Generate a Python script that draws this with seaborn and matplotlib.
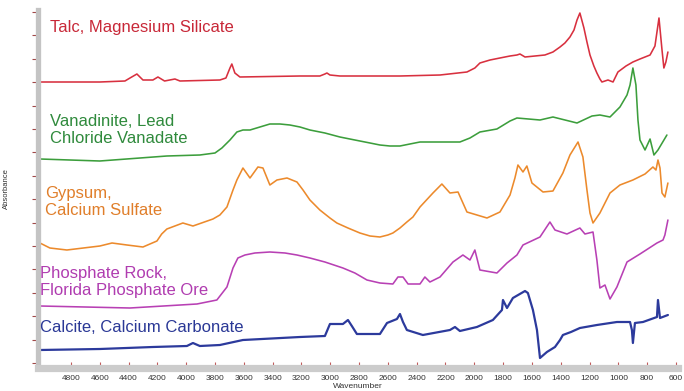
import matplotlib
matplotlib.use("Agg")
import matplotlib.pyplot as plt
from matplotlib.ticker import MultipleLocator
import numpy as np
import pandas as pd
import seaborn as sns

# Stacked infrared spectra (wavenumber in cm-1, absorbance offset per sample)
talc_wn = [5015, 4600, 4425, 4390, 4342, 4321, 4300, 4231, 4196, 4150, 4078, 4043,
           3766, 3724, 3696, 3683, 3662, 3627, 3210, 3072, 3037, 3023, 3002, 2933,
           2516, 2238, 2051, 1996, 1961, 1891, 1822, 1752, 1704, 1683, 1648, 1579,
           1510, 1454, 1405, 1371, 1336, 1308, 1287, 1267, 1239, 1218, 1197, 1170,
           1149, 1128, 1114, 1072, 1037, 1003, 947, 899, 850, 780, 746,
           718, 697, 684, 670, 656]
talc_abs = [2.81, 2.81, 2.82, 2.85, 2.89, 2.86, 2.83, 2.83, 2.86, 2.82, 2.84, 2.82,
            2.83, 2.85, 2.95, 2.99, 2.90, 2.86, 2.87, 2.87, 2.89, 2.90, 2.88, 2.87,
            2.87, 2.88, 2.91, 2.95, 3.00, 3.03, 3.05, 3.07, 3.08, 3.09, 3.06, 3.07,
            3.08, 3.11, 3.16, 3.20, 3.26, 3.33, 3.43, 3.50, 3.35, 3.21, 3.08, 2.97,
            2.90, 2.84, 2.81, 2.83, 2.81, 2.91, 2.97, 3.01, 3.04, 3.08, 3.17,
            3.45, 3.13, 2.95, 3.01, 3.11]

vanad_wn = [5015, 4600, 4134, 3905, 3800, 3752, 3696, 3648, 3606, 3557, 3488, 3419,
            3349, 3280, 3210, 3141, 3037, 2933, 2829, 2724, 2655, 2586, 2516, 2447,
            2377, 2287, 2100, 2030, 1961, 1843, 1752, 1704, 1544,
            1454, 1287, 1183, 1128, 1058, 989, 940, 919, 899, 878, 864, 850, 815,
            780, 753, 725, 663]
vanad_abs = [2.04, 2.02, 2.07, 2.08, 2.10, 2.15, 2.23, 2.31, 2.33, 2.33, 2.36, 2.39,
             2.39, 2.38, 2.36, 2.33, 2.30, 2.26, 2.23, 2.20, 2.18, 2.17, 2.17, 2.19,
             2.21, 2.21, 2.21, 2.25, 2.31, 2.34, 2.42, 2.45, 2.43,
             2.46, 2.40, 2.47, 2.48, 2.46, 2.56, 2.68, 2.78, 2.95, 2.78, 2.43, 2.23,
             2.13, 2.24, 2.08, 2.13, 2.28]

gypsum_wn = [5015, 4946, 4828, 4599, 4515, 4411, 4300, 4203, 4170, 4134, 4023, 3953,
             3814, 3766, 3717, 3675, 3648, 3606, 3557, 3502, 3467, 3419, 3370, 3300,
             3231, 3189, 3141, 3072, 3002, 2954, 2877, 2794, 2724, 2655, 2600, 2565,
             2516, 2468, 2426, 2377, 2287, 2225, 2169, 2113,
             2051, 1912, 1822, 1752, 1718, 1697, 1662, 1635, 1600, 1523, 1454, 1385,
             1336, 1280, 1246, 1218, 1197, 1176, 1128, 1058, 989, 899, 815, 760,
             739, 725, 711, 697, 677, 656]
gypsum_abs = [1.20, 1.15, 1.13, 1.17, 1.20, 1.18, 1.16, 1.22, 1.29, 1.34, 1.40, 1.37,
              1.44, 1.48, 1.56, 1.73, 1.83, 1.95, 1.85, 1.96, 1.95, 1.78, 1.83, 1.85,
              1.81, 1.73, 1.63, 1.53, 1.45, 1.40, 1.35, 1.30, 1.27, 1.26, 1.28, 1.30,
              1.35, 1.41, 1.46, 1.56, 1.70, 1.79, 1.70, 1.71,
              1.51, 1.45, 1.51, 1.68, 1.85, 1.98, 1.91, 1.97, 1.80, 1.71, 1.72, 1.90,
              2.08, 2.21, 2.06, 1.73, 1.50, 1.40, 1.50, 1.70, 1.78, 1.83, 1.89, 1.96,
              1.93, 2.03, 1.95, 1.70, 1.66, 1.80]

phos_wn = [5015, 4390, 3925, 3787, 3717, 3675, 3641, 3592, 3523, 3419, 3314, 3231,
           3141, 3037, 2912, 2829, 2745, 2655, 2565, 2530, 2495, 2460, 2377, 2343,
           2308, 2238, 2148, 2079, 2030, 1996, 1961, 1843, 1773, 1704, 1662, 1544,
           1475, 1440, 1357, 1267, 1232, 1176, 1149, 1128, 1093, 1058, 1010, 940,
           850, 732, 690, 677, 656]
phos_abs = [0.57, 0.55, 0.59, 0.63, 0.76, 0.95, 1.05, 1.08, 1.10, 1.11, 1.10, 1.08,
            1.05, 1.01, 0.95, 0.90, 0.83, 0.80, 0.79, 0.86, 0.86, 0.79, 0.79, 0.86,
            0.81, 0.86, 1.01, 1.08, 1.03, 1.13, 0.93, 0.90, 1.00, 1.08, 1.18, 1.26,
            1.41, 1.33, 1.29, 1.35, 1.29, 1.31, 1.03, 0.75, 0.78, 0.64, 0.76, 1.01,
            1.09, 1.20, 1.23, 1.28, 1.43]

calcite_wn = [5015, 4599, 4231, 3995, 3953, 3905, 3766, 3606, 3210, 3037, 3002, 2912,
              2877, 2850, 2815, 2655, 2606, 2537, 2516, 2495, 2468, 2357, 2169, 2134,
              2100, 1982, 1871, 1808, 1801, 1773, 1732, 1648, 1628, 1593, 1565, 1544,
              1496, 1440, 1405, 1385, 1329, 1267, 1149, 1010, 919, 906, 899, 885, 829,
              732, 725, 711, 656]
calcite_abs = [0.13, 0.14, 0.16, 0.17, 0.20, 0.17, 0.18, 0.23, 0.26, 0.27, 0.39, 0.39,
               0.43, 0.37, 0.29, 0.29, 0.40, 0.44, 0.49, 0.41, 0.33, 0.28, 0.33, 0.36,
               0.32, 0.36, 0.43, 0.53, 0.63, 0.55, 0.65, 0.72, 0.70, 0.53, 0.33, 0.05,
               0.11, 0.16, 0.23, 0.28, 0.31, 0.35, 0.38, 0.41, 0.41, 0.33, 0.20, 0.40,
               0.41, 0.46, 0.63, 0.45, 0.48]

samples = ["Talc", "Vanadinite", "Gypsum", "Phosphate", "Calcite"]
line_colors = ["#d8303f", "#3c9e3c", "#ec8a2c", "#b840b4", "#2c3a9c"]
text_colors = ["#c82838", "#2f8a3c", "#e07e2a", "#b03cb0", "#2a3896"]
line_widths = [1.15, 1.15, 1.15, 1.15, 1.6]
labels = [
    "Talc, Magnesium Silicate",
    "Vanadinite, Lead\nChloride Vanadate",
    "Gypsum,\nCalcium Sulfate",
    "Phosphate Rock,\nFlorida Phosphate Ore",
    "Calcite, Calcium Carbonate",
]
label_wn = [4946, 4946, 4980, 5015, 5015]
label_abs = [3.35, 2.33, 1.61, 0.81, 0.35]

series = [(talc_wn, talc_abs), (vanad_wn, vanad_abs), (gypsum_wn, gypsum_abs),
          (phos_wn, phos_abs), (calcite_wn, calcite_abs)]
frames = [pd.DataFrame({"Wavenumber": wn, "Absorbance": ab, "Sample": name})
          for name, (wn, ab) in zip(samples, series)]
df = pd.concat(frames, ignore_index=True)

sns.set_theme(style="white")
plt.rcParams["font.family"] = ["Liberation Sans", "DejaVu Sans"]

fig = plt.figure(figsize=(6.84, 3.91), dpi=100)
ax = fig.add_axes([37.5 / 684, 1 - 368 / 391, (678 - 37.5) / 684, (368 - 10) / 391])

for name, color, lw in zip(samples, line_colors, line_widths):
    sns.lineplot(data=df[df["Sample"] == name], x="Wavenumber", y="Absorbance",
                 color=color, linewidth=lw, estimator=None, sort=False, ax=ax,
                 solid_joinstyle="round", solid_capstyle="round")

for text, wn, ab, color in zip(labels, label_wn, label_abs, text_colors):
    ax.text(wn, ab, text, color=color, fontsize=12, ha="left", va="center",
            linespacing=1.2)

ax.set_xlim(5032, 586)
ax.set_ylim(-0.05, 3.53)

ax.xaxis.set_minor_locator(MultipleLocator(50))
ax.yaxis.set_major_locator(MultipleLocator(0.234))
ax.set_yticklabels([])
tick_values = list(range(4800, 400, -200))
ax.set_xticks(tick_values)
ax.set_xticklabels([str(t) for t in tick_values])

ax.tick_params(axis="x", which="major", direction="in", length=4, width=0.8,
               color="#c05a5a", labelsize=6, labelcolor="#333333", pad=5, bottom=True)
ax.tick_params(axis="x", which="minor", direction="in", length=2, width=0.6,
               color="#c05a5a", bottom=True)
ax.tick_params(axis="y", which="major", direction="out", length=4, width=0.8,
               color="#a04848", left=True)

for side in ["top", "right"]:
    ax.spines[side].set_visible(False)
ax.spines["left"].set_color("#c4c4c4")
ax.spines["left"].set_linewidth(3.8)
ax.spines["bottom"].set_color("#cccccc")
ax.spines["bottom"].set_linewidth(5.2)

ax.set_xlabel("Wavenumber", fontsize=6, color="#333333", labelpad=1)
ax.set_ylabel("Absorbance", fontsize=5.5, color="#333333", labelpad=12)

fig.savefig("out.png", dpi=100, facecolor="white")
